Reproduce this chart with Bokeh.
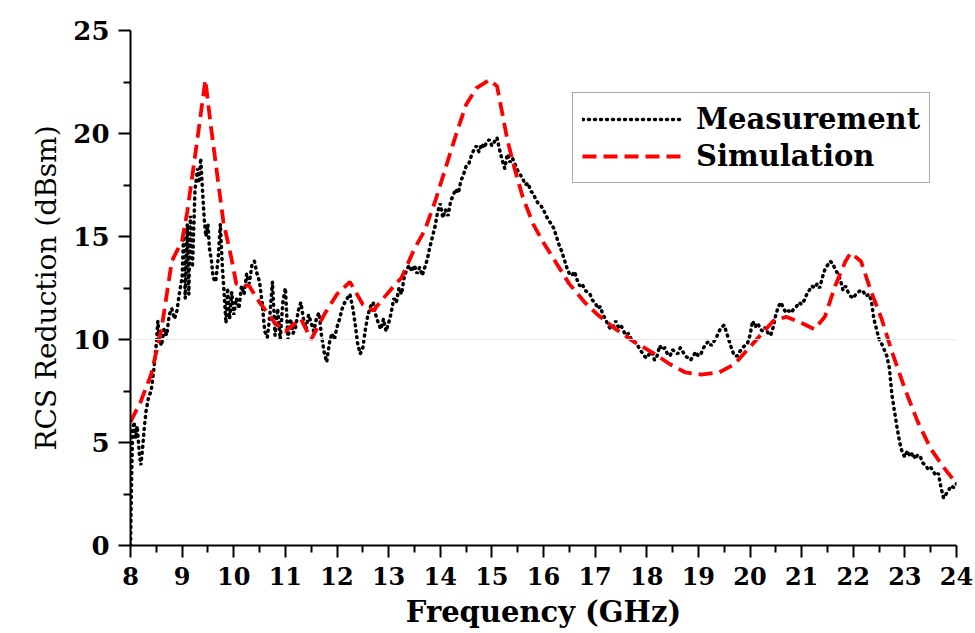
from bokeh.plotting import figure
from bokeh.models import FixedTicker, Legend, LegendItem, Span
from bokeh.embed import file_html
from bokeh.resources import INLINE

# ---------------- data ----------------
meas_freq = [8.00, 8.02, 8.04, 8.07, 8.10, 8.13, 8.17, 8.20, 8.23, 8.27, 8.30, 8.35, 8.40, 8.45, 8.50, 8.53, 8.56,
             8.60, 8.65, 8.70, 8.75, 8.80, 8.85, 8.90, 8.95, 9.00, 9.03, 9.06, 9.10, 9.13, 9.16, 9.20, 9.25, 9.30,
             9.33, 9.36, 9.40, 9.43, 9.46, 9.50, 9.53, 9.57, 9.60, 9.65, 9.70, 9.74, 9.78, 9.82, 9.85, 9.88, 9.92,
             9.96, 10.00, 10.05, 10.10, 10.15, 10.20, 10.25, 10.30, 10.35, 10.40, 10.45, 10.50, 10.55, 10.60, 10.65,
             10.70, 10.75, 10.80, 10.85, 10.90, 10.95, 11.00, 11.05, 11.10, 11.15, 11.20, 11.25, 11.30, 11.35, 11.40,
             11.45, 11.50, 11.55, 11.60, 11.65, 11.70, 11.75, 11.80, 11.85, 11.90, 11.95, 12.00, 12.05, 12.10, 12.15,
             12.20, 12.25, 12.30, 12.35, 12.40, 12.45, 12.50, 12.55, 12.60, 12.65, 12.70, 12.75, 12.80, 12.85, 12.90,
             12.95, 13.00, 13.05, 13.10, 13.15, 13.20, 13.25, 13.30, 13.35, 13.40, 13.45, 13.50, 13.55, 13.60, 13.65,
             13.70, 13.75, 13.80, 13.85, 13.90, 13.95, 14.00, 14.05, 14.10, 14.15, 14.20, 14.25, 14.30, 14.35, 14.40,
             14.45, 14.50, 14.55, 14.60, 14.65, 14.70, 14.75, 14.80, 14.85, 14.90, 14.95, 15.00, 15.05, 15.10, 15.15,
             15.20, 15.25, 15.30, 15.35, 15.40, 15.45, 15.50, 15.55, 15.60, 15.65, 15.70, 15.75, 15.80, 15.85, 15.90,
             15.95, 16.00, 16.05, 16.10, 16.15, 16.20, 16.25, 16.30, 16.35, 16.40, 16.45, 16.50, 16.55, 16.60, 16.65,
             16.70, 16.75, 16.80, 16.85, 16.90, 16.95, 17.00, 17.05, 17.10, 17.15, 17.20, 17.25, 17.30, 17.35, 17.40,
             17.45, 17.50, 17.55, 17.60, 17.65, 17.70, 17.75, 17.80, 17.85, 17.90, 17.95, 18.00, 18.05, 18.10, 18.15,
             18.20, 18.25, 18.30, 18.35, 18.40, 18.45, 18.50, 18.55, 18.60, 18.65, 18.70, 18.75, 18.80, 18.85, 18.90,
             18.95, 19.00, 19.05, 19.10, 19.15, 19.20, 19.25, 19.30, 19.35, 19.40, 19.45, 19.50, 19.55, 19.60, 19.65,
             19.70, 19.75, 19.80, 19.85, 19.90, 19.95, 20.00, 20.05, 20.10, 20.15, 20.20, 20.25, 20.30, 20.35, 20.40,
             20.45, 20.50, 20.55, 20.60, 20.65, 20.70, 20.75, 20.80, 20.85, 20.90, 20.95, 21.00, 21.05, 21.10, 21.15,
             21.20, 21.25, 21.30, 21.35, 21.40, 21.45, 21.50, 21.55, 21.60, 21.65, 21.70, 21.75, 21.80, 21.85, 21.90,
             21.95, 22.00, 22.05, 22.10, 22.15, 22.20, 22.25, 22.30, 22.35, 22.40, 22.45, 22.50, 22.55, 22.60, 22.65,
             22.70, 22.75, 22.80, 22.85, 22.90, 22.95, 23.00, 23.05, 23.10, 23.15, 23.20, 23.25, 23.30, 23.35, 23.40,
             23.45, 23.50, 23.55, 23.60, 23.65, 23.70, 23.75, 23.80, 23.85, 23.90, 23.95, 24.00]
meas_val = [0.0, 3.0, 5.5, 6.0, 5.2, 5.8, 4.5, 3.9, 4.6, 5.8, 6.5, 7.2, 7.5, 8.5, 9.8, 10.9, 10.0,
            9.7, 10.5, 10.2, 11.2, 11.5, 11.0, 11.4, 12.3, 13.0, 15.3, 12.0, 15.6, 12.2, 16.0, 13.5, 17.3, 18.3,
            17.6, 18.8, 17.0, 15.8, 15.0, 15.6, 14.4, 13.8, 13.0, 12.8, 14.0, 15.6, 13.5, 12.0, 10.8, 12.5, 11.0,
            12.3, 11.2, 12.0, 11.5, 12.6, 12.2, 13.2, 12.7, 13.6, 13.8, 13.2, 12.8, 11.8, 10.4, 10.1,
            11.2, 12.8, 10.2, 11.5, 10.0, 11.8, 12.5, 10.0, 11.0, 10.3, 10.6, 11.4, 11.8, 11.0, 10.5,
            11.2, 10.8, 10.4, 11.0, 11.3, 10.2, 9.4, 8.9, 9.8, 10.3, 10.0, 10.6, 11.0, 11.5, 11.8,
            12.0, 12.2, 11.6, 10.8, 9.8, 9.3, 9.6, 10.5, 11.2, 11.6, 11.8, 11.2, 10.8, 10.5, 11.0,
            10.4, 10.8, 11.3, 12.0, 11.8, 12.5, 12.2, 13.0, 13.4, 13.6, 13.3, 13.6, 13.2, 13.5, 13.1,
            13.5, 13.9, 14.5, 15.0, 15.5, 16.2, 16.6, 15.9, 16.3, 16.0, 16.7, 17.0, 17.3, 17.1, 17.7,
            18.0, 18.4, 18.5, 18.9, 19.2, 19.4, 19.1, 19.5, 19.3, 19.6, 19.7, 19.4, 19.6, 19.8, 19.2,
            18.7, 18.3, 19.0, 18.6, 18.8, 18.5, 18.2, 18.0, 17.8, 17.5, 17.6, 17.2, 17.1, 16.8, 16.6,
            16.5, 16.3, 16.0, 15.8, 15.6, 15.4, 15.0, 14.6, 14.3, 13.9, 13.5, 13.2, 13.1, 13.3, 12.9,
            12.6, 12.7, 12.4, 12.3, 12.2, 11.9, 11.8, 11.5, 11.6, 11.2, 11.0, 10.7, 10.5, 10.6, 10.9,
            10.6, 10.7, 10.4, 10.2, 10.3, 10.0, 9.9, 9.8, 9.6, 9.4, 9.2, 9.1, 9.3, 9.4, 9.0,
            9.2, 9.7, 9.5, 9.6, 9.3, 9.2, 9.5, 9.4, 9.3, 9.6, 9.4, 9.2, 9.1, 9.0, 9.2,
            9.4, 9.2, 9.3, 9.6, 9.8, 9.9, 9.7, 9.9, 10.1, 10.4, 10.6, 10.7, 10.3, 9.9, 9.5,
            9.2, 9.2, 9.4, 9.6, 9.7, 9.8, 10.2, 10.9, 10.6, 10.8, 10.5, 10.4, 10.6, 10.3, 10.2,
            10.6, 11.2, 11.6, 11.8, 11.5, 11.3, 11.4, 11.3, 11.5, 11.6, 11.8, 11.7, 11.9, 12.2, 12.4,
            12.6, 12.5, 12.7, 12.5, 13.0, 13.4, 13.6, 13.8, 13.7, 13.4, 13.2, 12.9, 12.4, 12.6, 12.3,
            12.1, 12.0, 12.2, 12.3, 12.4, 12.3, 12.1, 12.2, 11.9, 11.0, 10.5, 10.0, 9.8, 9.5, 9.2,
            8.6, 7.3, 6.5, 5.7, 5.0, 4.5, 4.3, 4.6, 4.3, 4.5, 4.2, 4.4, 4.3, 4.0, 3.9,
            3.7, 3.8, 3.6, 3.4, 3.5, 2.8, 2.3, 2.5, 2.7, 2.9, 2.8, 3.0]

sim_freq = [8.0, 8.2, 8.4, 8.6, 8.8, 9.0, 9.1, 9.2, 9.3, 9.45, 9.55, 9.7, 9.8, 9.95, 10.05, 10.3, 10.5, 10.8,
            11.0, 11.3, 11.5, 11.75, 12.0, 12.25, 12.5, 12.7, 13.0, 13.25, 13.5, 13.7, 13.9, 14.1, 14.3, 14.5,
            14.7, 14.95, 15.1, 15.2, 15.3, 15.45, 15.6, 15.8, 16.0, 16.25, 16.5, 16.8, 17.05, 17.4, 17.75,
            18.15, 18.45, 18.75, 19.05, 19.4, 19.7, 19.95, 20.2, 20.45, 20.7, 21.0, 21.25, 21.45, 21.65, 21.85,
            21.95, 22.15, 22.35, 22.55, 22.75, 23.0, 23.25, 23.5, 23.75, 24.0]
sim_val = [6.0, 7.0, 8.3, 10.5, 13.8, 14.8, 16.2, 18.0, 19.8, 22.6, 20.5, 17.6, 15.7, 14.0, 12.7, 12.6, 11.8, 10.8,
           10.4, 11.0, 10.0, 11.2, 12.2, 12.8, 11.7, 11.4, 12.3, 13.0, 14.4, 15.3, 16.7, 18.3, 19.9, 21.4,
           22.2, 22.6, 22.3, 21.0, 19.7, 18.2, 16.9, 15.6, 14.7, 13.7, 12.7, 11.8, 11.2, 10.5, 9.9,
           9.3, 8.8, 8.4, 8.3, 8.4, 8.8, 9.5, 10.2, 10.9, 11.1, 10.8, 10.5, 11.1, 12.6, 13.8,
           14.2, 13.8, 12.3, 11.0, 9.4, 7.6, 6.0, 4.7, 3.8, 3.0]

x_ticks = list(range(8, 25))
x_minor = [8.5 + i for i in range(16)]
y_ticks = [0, 5, 10, 15, 20, 25]
y_minor = [2.5, 7.5, 12.5, 17.5, 22.5]

series_labels = ["Measurement", "Simulation"]

# ---------------- figure ----------------
p = figure(width=975, height=633, x_range=(8, 24), y_range=(0, 25),
           output_backend="svg", toolbar_location=None,
           min_border_left=130, min_border_right=19, min_border_top=30, min_border_bottom=88)
p.outline_line_color = None
p.xgrid.visible = False
p.ygrid.visible = False
p.background_fill_color = "white"
p.border_fill_color = "white"

p.add_layout(Span(location=10, dimension="width", line_color="#e3eef4", line_width=1))

r_meas = p.line(meas_freq, meas_val, line_color="black", line_width=3.5,
                line_dash="1 5", line_cap="round")
r_sim = p.line(sim_freq, sim_val, line_color="#ff0000", line_width=3.8,
               line_dash="14 7")

serif = "DejaVu Serif"
for ax in (p.xaxis[0], p.yaxis[0]):
    ax.axis_line_width = 2
    ax.axis_line_color = "black"
    ax.major_tick_line_width = 2
    ax.minor_tick_line_width = 2
    ax.major_tick_in = 0
    ax.major_tick_out = 12
    ax.minor_tick_in = 0
    ax.minor_tick_out = 7
    ax.major_label_text_color = "black"
    ax.axis_label_text_color = "black"
    ax.axis_label_text_font_style = "normal"

p.xaxis.ticker = FixedTicker(ticks=x_ticks, minor_ticks=x_minor)
p.yaxis.ticker = FixedTicker(ticks=y_ticks, minor_ticks=y_minor)

p.yaxis.major_label_text_font = serif
p.yaxis.major_label_text_font_style = "bold"
p.yaxis.major_label_text_font_size = "26px"
p.yaxis.major_label_standoff = 9

p.xaxis.major_label_text_font = serif
p.xaxis.major_label_text_font_style = "bold"
p.xaxis.major_label_text_font_size = "24px"
p.xaxis.major_label_standoff = 9

p.xaxis.axis_label = "Frequency (GHz)"
p.xaxis.axis_label_text_font = serif
p.xaxis.axis_label_text_font_style = "bold"
p.xaxis.axis_label_text_font_size = "29px"
p.xaxis.axis_label_standoff = 7

p.yaxis.axis_label = "RCS Reduction (dBsm)"
p.yaxis.axis_label_text_font = serif
p.yaxis.axis_label_text_font_size = "28px"
p.yaxis.axis_label_standoff = 7

legend = Legend(items=[LegendItem(label=series_labels[0], renderers=[r_meas]),
                       LegendItem(label=series_labels[1], renderers=[r_sim])],
                location=(442, 362))
legend.label_text_font = serif
legend.label_text_font_style = "bold"
legend.label_text_font_size = "29px"
legend.label_text_color = "black"
legend.glyph_width = 100
legend.glyph_height = 30
legend.label_height = 30
legend.label_standoff = 14
legend.spacing = 3
legend.padding = 9
legend.margin = 0
legend.border_line_color = "#555555"
legend.border_line_width = 1.5
legend.background_fill_alpha = 1
p.add_layout(legend, "center")

open("out.html", "w").write(file_html(p, INLINE))
